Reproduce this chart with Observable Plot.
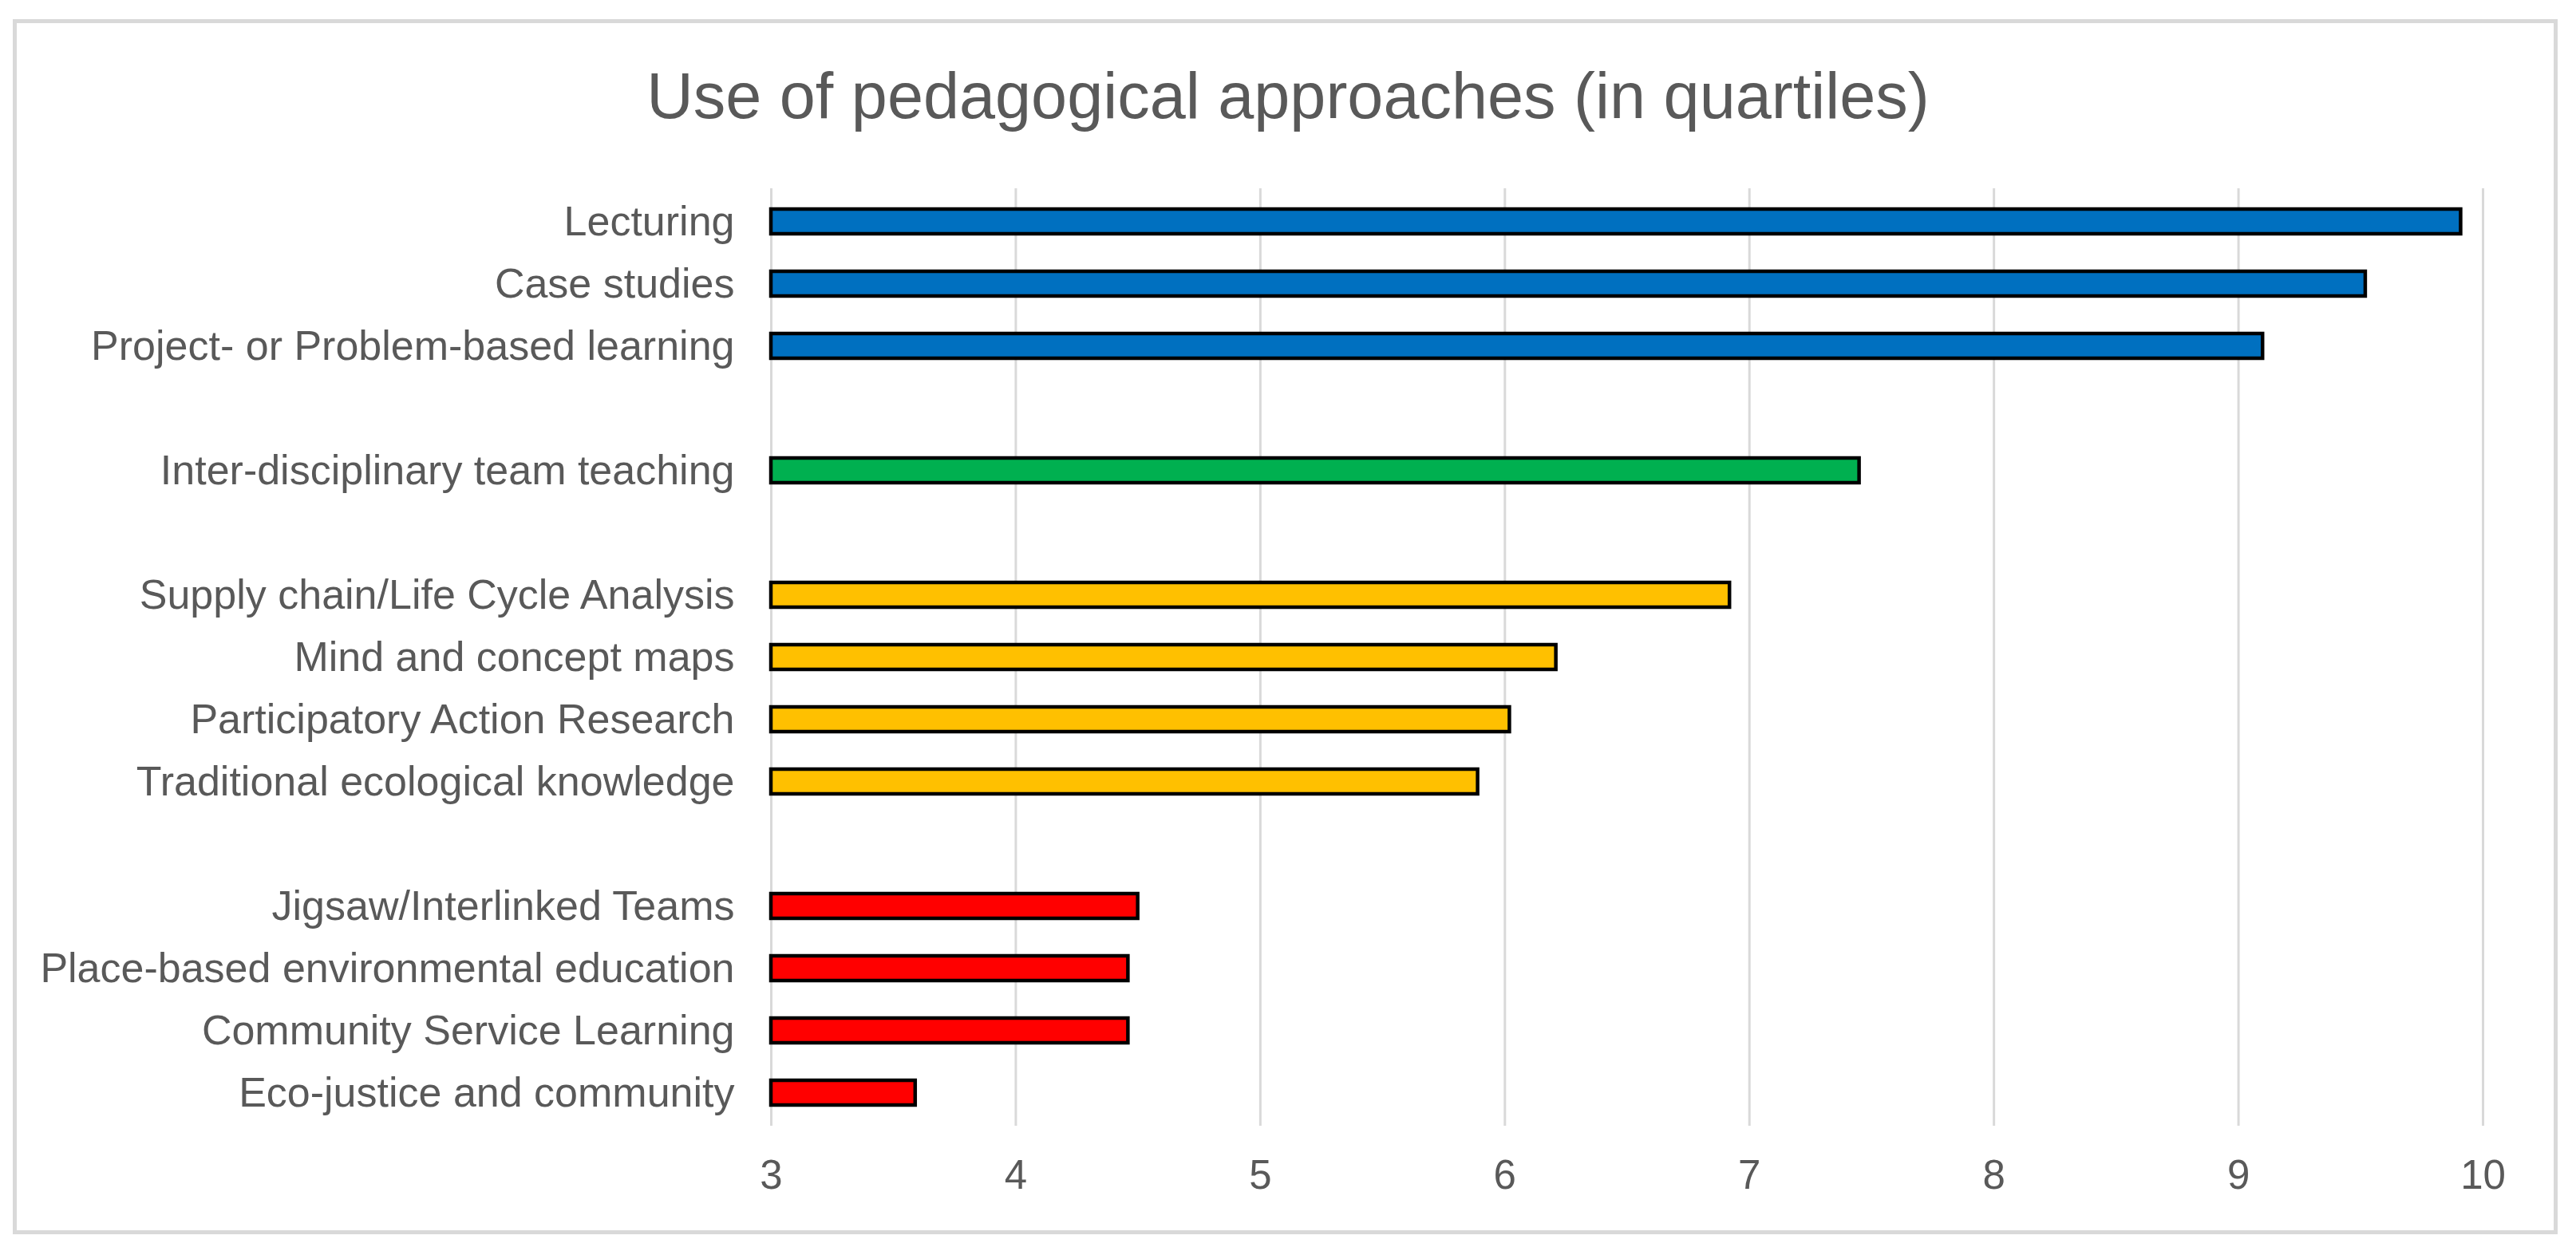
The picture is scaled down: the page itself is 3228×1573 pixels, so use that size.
<!DOCTYPE html>
<html>
<head>
<meta charset="utf-8">
<script src="https://cdn.jsdelivr.net/npm/d3@7"></script>
<script src="https://cdn.jsdelivr.net/npm/@observablehq/plot@0.6"></script>
<style>
  html, body { margin: 0; padding: 0; background: #fff; }
  #page { position: relative; width: 3228px; height: 1573px; overflow: hidden; background: #fff; font-family: "Liberation Sans", Arial, sans-serif; }
  #frame { position: absolute; left: 16px; top: 24px; width: 3189px; height: 1523px; border: 5px solid #d9d9d9; box-sizing: border-box; }
  #title { position: absolute; left: 0; top: 80px; width: 3228px; text-align: center; font-size: 81px; line-height: 81px; color: #595959; white-space: nowrap; }
  #chart { position: absolute; left: 0; top: 180px; }
</style>
</head>
<body>
<div id="page">
  <div id="frame"></div>
  <div id="title">Use of pedagogical approaches (in quartiles)</div>
  <div id="chart"></div>
</div>
<script>
// Categories (top to bottom), values and groups
const categories = [
  "Lecturing",
  "Case studies",
  "Project- or Problem-based learning",
  "Inter-disciplinary team teaching",
  "Supply chain/Life Cycle Analysis",
  "Mind and concept maps",
  "Participatory Action Research",
  "Traditional ecological knowledge",
  "Jigsaw/Interlinked Teams",
  "Place-based environmental education",
  "Community Service Learning",
  "Eco-justice and community"
];
const values = [9.91, 9.52, 9.10, 7.45, 6.92, 6.21, 6.02, 5.89, 4.50, 4.46, 4.46, 3.59];
const groups = ["top", "top", "top", "upper", "middle", "middle", "middle", "middle", "low", "low", "low", "low"];
const groupNames = ["top", "upper", "middle", "low"];
const groupColors = ["#0070C0", "#00B050", "#FFC000", "#FF0000"];
const xTicks = [3, 4, 5, 6, 7, 8, 9, 10];
const xBaseline = 3;

const data = categories.map((c, i) => ({label: c, value: values[i], group: groups[i]}));

// y domain with an empty row between groups
const yDomain = [];
data.forEach((d, i) => {
  if (i > 0 && groups[i] !== groups[i - 1]) yDomain.push("gap" + i);
  yDomain.push(d.label);
});

const chart = Plot.plot({
  width: 3228,
  height: 1393,
  marginLeft: 966,
  marginRight: 117,
  marginTop: 56,
  marginBottom: 162,
  style: {fontFamily: "'Liberation Sans', Arial, sans-serif", fontSize: "52px", color: "#595959", background: "transparent"},
  x: {domain: [3, 10], ticks: xTicks},
  y: {domain: yDomain, paddingInner: 0.604, paddingOuter: 0.302},
  color: {domain: groupNames, range: groupColors},
  marks: [
    Plot.gridX(xTicks, {stroke: "#d9d9d9", strokeOpacity: 1, strokeWidth: 3}),
    Plot.barX(data, {x1: xBaseline, x2: "value", y: "label", fill: "group", stroke: "#000", strokeWidth: 4.5}),
    Plot.axisX({ticks: xTicks, tickFormat: d => String(d), tickSize: 0, tickPadding: 42, fontSize: 51, label: null}),
    Plot.axisY({tickSize: 0, tickPadding: 46, fontSize: 52, label: null,
      tickFormat: d => d.startsWith("gap") ? "" : d})
  ]
});
document.getElementById("chart").appendChild(chart);
</script>
</body>
</html>
